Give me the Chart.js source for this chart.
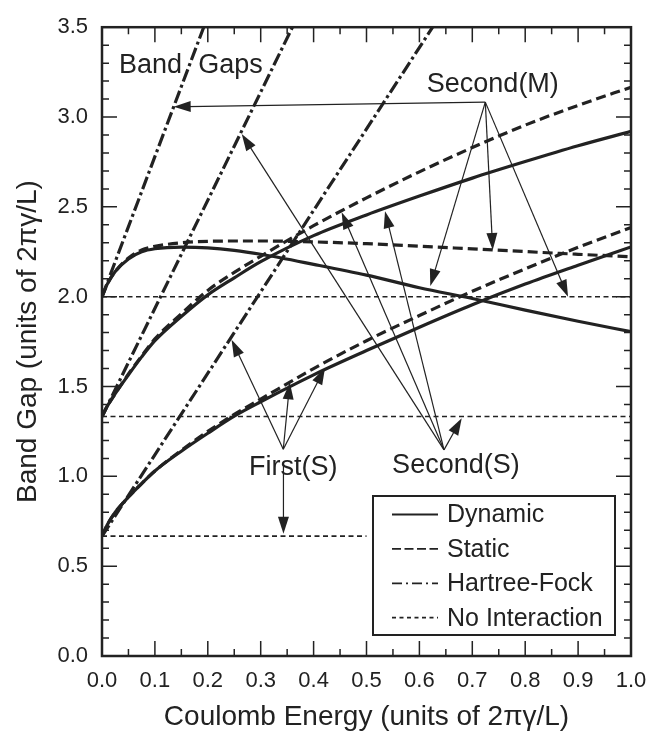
<!DOCTYPE html>
<html>
<head>
<meta charset="utf-8">
<script src="https://cdn.jsdelivr.net/npm/chart.js@4.4.1/dist/chart.umd.min.js"></script>
<style>
  html, body { margin: 0; padding: 0; background: #fff; }
  canvas { display: block; }
</style>
</head>
<body>
<canvas id="chart" width="664" height="736"></canvas>
<script>
const xValues = [0, 0.01, 0.025, 0.05, 0.075, 0.1, 0.15, 0.2, 0.25, 0.3, 0.4, 0.5, 0.6, 0.7, 0.8, 0.9, 1.0];

// Second(M) gap (starts at 2.0)
const secondMDynamic = [2.0, 2.07, 2.14, 2.21, 2.25, 2.267, 2.276, 2.272, 2.258, 2.236, 2.18, 2.12, 2.05, 1.99, 1.925, 1.863, 1.805];
const secondMStatic  = [2.0, 2.07, 2.14, 2.215, 2.26, 2.28, 2.30, 2.308, 2.31, 2.31, 2.305, 2.295, 2.281, 2.266, 2.251, 2.236, 2.222];

// Second(S) gap (starts at 4/3)
const secondSDynamic = [1.333, 1.39, 1.46, 1.565, 1.665, 1.755, 1.89, 2.01, 2.105, 2.195, 2.34, 2.455, 2.56, 2.66, 2.752, 2.84, 2.92];
const secondSStatic  = [1.333, 1.39, 1.46, 1.57, 1.67, 1.765, 1.905, 2.035, 2.135, 2.225, 2.395, 2.55, 2.695, 2.83, 2.955, 3.065, 3.166];

// First(S) gap (starts at 2/3)
const firstSDynamic = [0.667, 0.73, 0.80, 0.885, 0.96, 1.03, 1.14, 1.24, 1.335, 1.415, 1.565, 1.70, 1.83, 1.955, 2.07, 2.175, 2.277];
const firstSStatic  = [0.667, 0.73, 0.80, 0.885, 0.96, 1.03, 1.145, 1.25, 1.345, 1.43, 1.60, 1.755, 1.895, 2.03, 2.155, 2.275, 2.385];

// Hartree-Fock straight lines (end points)
const hfSecondMX = [0, 0.1923];
const hfSecondMY = [2.0, 3.5];
const hfSecondSX = [0, 0.36];
const hfSecondSY = [1.333, 3.5];
const hfFirstSX = [0, 0.625];
const hfFirstSY = [0.667, 3.5];

// No interaction levels
const noIntLevels = [2.0, 1.333, 0.667];
const noIntEnds = [1.0, 1.0, 0.5];

// axis ticks
const xTicks = [0.0, 0.1, 0.2, 0.3, 0.4, 0.5, 0.6, 0.7, 0.8, 0.9, 1.0];
const xMinorTicks = [0.05, 0.15, 0.25, 0.35, 0.45, 0.55, 0.65, 0.75, 0.85, 0.95];
const yTicks = [0.0, 0.5, 1.0, 1.5, 2.0, 2.5, 3.0, 3.5];
const yMinorTicks = [0.1, 0.2, 0.3, 0.4, 0.6, 0.7, 0.8, 0.9, 1.1, 1.2, 1.3, 1.4, 1.6, 1.7, 1.8, 1.9,
                     2.1, 2.2, 2.3, 2.4, 2.6, 2.7, 2.8, 2.9, 3.1, 3.2, 3.3, 3.4];

// annotation arrows: apex of the label and the arrow tips (data units)
const secondMApex = [0.7246, 3.083];
const secondMTips = [[0.1355, 3.057], [0.6206, 2.059], [0.7386, 2.26], [0.881, 2.0]];
const secondSApex = [0.6465, 1.1475];
const secondSTips = [[0.2641, 2.906], [0.453, 2.47], [0.535, 2.476], [0.68, 1.324]];
const firstSApex = [0.3427, 1.151];
const firstSTips = [[0.245, 1.76], [0.355, 1.523], [0.4216, 1.605]];
const firstSDown = [[0.343, 1.078], [0.343, 0.681]];

const legendNames = ['Dynamic', 'Static', 'Hartree-Fock', 'No Interaction'];

const INK = '#222';
const FONT = '"Liberation Sans", Arial, Helvetica, sans-serif';

const lineStyles = {
    'Dynamic':        { dash: [], width: 3.2, legendDash: [] },
    'Static':         { dash: [10, 5], width: 3.2, legendDash: [9, 3.5] },
    'Hartree-Fock':   { dash: [13, 3.5, 3, 3.5], width: 3.2, legendDash: [10, 4, 2, 4] },
    'No Interaction': { dash: [5, 3.5], width: 1.6, legendDash: [4, 3.5] }
};

function makeSet(xs, ys, kind, smooth) {
    const st = lineStyles[kind];
    return {
        label: kind,
        data: xs.map((x, i) => ({ x: x, y: ys[i] })),
        borderColor: INK,
        borderWidth: st.width,
        borderDash: st.dash,
        pointRadius: 0,
        fill: false,
        cubicInterpolationMode: smooth ? 'monotone' : 'default',
        tension: 0
    };
}

const datasets = [];
noIntLevels.forEach((lv, i) => {
    datasets.push(makeSet([0, noIntEnds[i]], [lv, lv], 'No Interaction', false));
});
datasets.push(makeSet(hfSecondMX, hfSecondMY, 'Hartree-Fock', false));
datasets.push(makeSet(hfSecondSX, hfSecondSY, 'Hartree-Fock', false));
datasets.push(makeSet(hfFirstSX, hfFirstSY, 'Hartree-Fock', false));
datasets.push(makeSet(xValues, secondMStatic, 'Static', true));
datasets.push(makeSet(xValues, secondSStatic, 'Static', true));
datasets.push(makeSet(xValues, firstSStatic, 'Static', true));
datasets.push(makeSet(xValues, secondMDynamic, 'Dynamic', true));
datasets.push(makeSet(xValues, secondSDynamic, 'Dynamic', true));
datasets.push(makeSet(xValues, firstSDynamic, 'Dynamic', true));

// Arrow with filled head
function drawArrow(ctx, x0, y0, x1, y1) {
    const ang = Math.atan2(y1 - y0, x1 - x0);
    const len = 17, half = 5.5;
    ctx.beginPath();
    ctx.moveTo(x0, y0);
    ctx.lineTo(x1 - Math.cos(ang) * len * 0.8, y1 - Math.sin(ang) * len * 0.8);
    ctx.stroke();
    ctx.beginPath();
    ctx.moveTo(x1, y1);
    ctx.lineTo(x1 - Math.cos(ang) * len - Math.sin(ang) * half, y1 - Math.sin(ang) * len + Math.cos(ang) * half);
    ctx.lineTo(x1 - Math.cos(ang) * len + Math.sin(ang) * half, y1 - Math.sin(ang) * len - Math.cos(ang) * half);
    ctx.closePath();
    ctx.fill();
}

const decorPlugin = {
    id: 'decor',
    afterDatasetsDraw(chart) {
        const ctx = chart.ctx;
        const xs = chart.scales.x, ys = chart.scales.y;
        const area = chart.chartArea;
        const px = v => xs.getPixelForValue(v);
        const py = v => ys.getPixelForValue(v);

        ctx.save();
        ctx.strokeStyle = INK;
        ctx.fillStyle = INK;

        // ticks pointing inward on all four sides
        ctx.lineWidth = 1.5;
        ctx.beginPath();
        xTicks.forEach(v => {
            ctx.moveTo(px(v), area.bottom); ctx.lineTo(px(v), area.bottom - 15);
            ctx.moveTo(px(v), area.top); ctx.lineTo(px(v), area.top + 15);
        });
        xMinorTicks.forEach(v => {
            ctx.moveTo(px(v), area.bottom); ctx.lineTo(px(v), area.bottom - 7);
            ctx.moveTo(px(v), area.top); ctx.lineTo(px(v), area.top + 7);
        });
        yTicks.forEach(v => {
            ctx.moveTo(area.left, py(v)); ctx.lineTo(area.left + 15, py(v));
            ctx.moveTo(area.right, py(v)); ctx.lineTo(area.right - 15, py(v));
        });
        yMinorTicks.forEach(v => {
            ctx.moveTo(area.left, py(v)); ctx.lineTo(area.left + 7, py(v));
            ctx.moveTo(area.right, py(v)); ctx.lineTo(area.right - 7, py(v));
        });
        ctx.stroke();

        // frame
        ctx.lineWidth = 2.5;
        ctx.strokeRect(area.left, area.top, area.right - area.left, area.bottom - area.top);

        // arrows
        ctx.lineWidth = 1.2;
        secondMTips.forEach(t => drawArrow(ctx, px(secondMApex[0]), py(secondMApex[1]), px(t[0]), py(t[1])));
        secondSTips.forEach(t => drawArrow(ctx, px(secondSApex[0]), py(secondSApex[1]), px(t[0]), py(t[1])));
        firstSTips.forEach(t => drawArrow(ctx, px(firstSApex[0]), py(firstSApex[1]), px(t[0]), py(t[1])));
        drawArrow(ctx, px(firstSDown[0][0]), py(firstSDown[0][1]), px(firstSDown[1][0]), py(firstSDown[1][1]));

        // labels
        ctx.font = '27px ' + FONT;
        ctx.textBaseline = 'alphabetic';
        ctx.textAlign = 'left';
        ctx.fillText('Band', px(0.032), py(3.247));
        ctx.textAlign = 'right';
        ctx.fillText('Gaps', px(0.304), py(3.247));
        ctx.textAlign = 'center';
        ctx.fillText('Second(M)', px(0.7388), py(3.138));
        ctx.fillText('First(S)', px(0.3616), py(1.008));
        ctx.fillText('Second(S)', px(0.669), py(1.02));

        // legend box
        const bw = 242, bh = 139;
        const bx = area.right - 16 - bw, by = area.bottom - 21 - bh;
        ctx.fillStyle = '#fff';
        ctx.fillRect(bx, by, bw, bh);
        ctx.lineWidth = 2;
        ctx.strokeRect(bx, by, bw, bh);
        ctx.fillStyle = INK;
        ctx.font = '25px ' + FONT;
        ctx.textAlign = 'left';
        ctx.textBaseline = 'middle';
        legendNames.forEach((name, i) => {
            const ry = by + 18.5 + i * 34.4;
            ctx.setLineDash(lineStyles[name].legendDash);
            ctx.lineWidth = 1.8;
            ctx.beginPath();
            ctx.moveTo(bx + 19, ry);
            ctx.lineTo(bx + 65, ry);
            ctx.stroke();
            ctx.setLineDash([]);
            ctx.fillText(name, bx + 74, ry + 1);
        });
        ctx.restore();
    }
};

const tickFont = { family: FONT, size: 22 };
const titleFont = { family: FONT, size: 28 };

new Chart(document.getElementById('chart'), {
    type: 'line',
    data: { datasets: datasets },
    options: {
        responsive: false,
        animation: false,
        layout: { padding: { top: 13, right: 33, left: 0, bottom: 0 } },
        plugins: { legend: { display: false }, tooltip: { enabled: false } },
        scales: {
            x: {
                type: 'linear', min: 0, max: 1,
                afterFit(s) { s.height = 80; },
                afterBuildTicks(s) { s.ticks = xTicks.map(v => ({ value: v })); },
                grid: { display: false, drawTicks: false },
                border: { display: false },
                ticks: { padding: 12, color: INK, font: tickFont, maxRotation: 0, autoSkip: false,
                         callback: v => v.toFixed(1) },
                title: { display: true, text: 'Coulomb Energy (units of 2πγ/L)', color: INK, font: titleFont,
                         padding: { top: 0, bottom: 2 } }
            },
            y: {
                type: 'linear', min: 0, max: 3.5,
                afterFit(s) { s.width = 102; },
                afterBuildTicks(s) { s.ticks = yTicks.map(v => ({ value: v })); },
                grid: { display: false, drawTicks: false },
                border: { display: false },
                ticks: { padding: 14, color: INK, font: tickFont, autoSkip: false,
                         callback: v => v.toFixed(1) },
                title: { display: true, text: 'Band Gap (units of 2πγ/L)', color: INK, font: titleFont,
                         padding: { top: 11, bottom: 0 } }
            }
        }
    },
    plugins: [decorPlugin]
});
</script>
</body>
</html>
